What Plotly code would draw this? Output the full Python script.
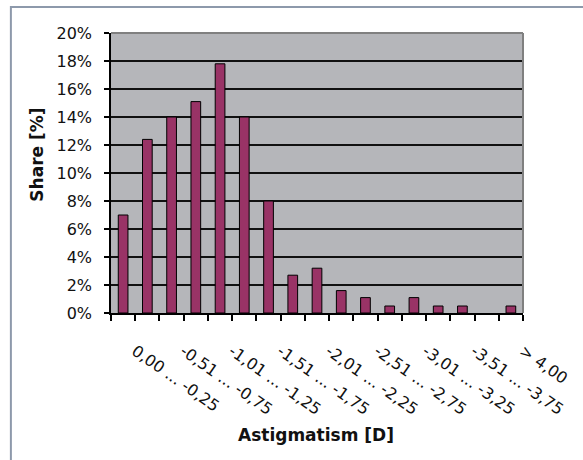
import plotly.graph_objects as go

# Astigmatism classes (dioptres) and share of eyes per class
categories = [
    "0,00 ... -0,25", "-0,26 ... -0,50", "-0,51 ... -0,75", "-0,76 ... -1,00",
    "-1,01 ... -1,25", "-1,26 ... -1,50", "-1,51 ... -1,75", "-1,76 ... -2,00",
    "-2,01 ... -2,25", "-2,26 ... -2,50", "-2,51 ... -2,75", "-2,76 ... -3,00",
    "-3,01 ... -3,25", "-3,26 ... -3,50", "-3,51 ... -3,75", "-3,76 ... -4,00",
    "> 4,00",
]
share = [7.0, 12.4, 14.0, 15.1, 17.8, 14.0, 8.0, 2.7, 3.2, 1.6,
         1.1, 0.5, 1.1, 0.5, 0.5, 0.0, 0.5]

# every second class carries a label on the axis
label_step = 2
y_ticks = list(range(0, 21, 2))

positions = list(range(len(categories)))
label_pos = positions[::label_step]
label_text = categories[::label_step]
boundaries = [p - 0.5 for p in positions] + [positions[-1] + 0.5]

FONT = "DejaVu Sans"
TEXT = "#111111"

fig = go.Figure(
    go.Bar(
        x=positions,
        y=share,
        marker=dict(
            color="#993366",
            # empty classes get no outline
            line=dict(color="#000000", width=[1 if v > 0 else 0 for v in share]),
        ),
        width=0.4,
        hoverinfo="skip",
    )
)

fig.update_layout(
    width=583,
    height=460,
    margin=dict(l=111, r=60, t=33, b=147),
    paper_bgcolor="#FFFFFF",
    plot_bgcolor="#B5B6BA",
    showlegend=False,
    font=dict(family=FONT, size=16, color=TEXT),
)

fig.update_xaxes(
    range=[boundaries[0], boundaries[-1]],
    tickmode="array",
    tickvals=label_pos,
    ticktext=label_text,
    tickangle=35,
    ticks="",
    ticklabelstandoff=21,
    ticklabelshift=12,
    tickfont=dict(family=FONT, size=16, color=TEXT),
    showgrid=False,
    zeroline=False,
    showline=True,
    linecolor="#000000",
    linewidth=1.5,
    minor=dict(
        tickmode="array",
        tickvals=boundaries,
        ticks="outside",
        ticklen=6,
        tickwidth=1.5,
        tickcolor="#000000",
        showgrid=False,
    ),
)

fig.update_yaxes(
    range=[0, 20],
    tickmode="array",
    tickvals=y_ticks,
    ticktext=[f"{v}%" for v in y_ticks],
    ticks="outside",
    ticklen=5,
    tickwidth=1.5,
    tickcolor="#000000",
    ticklabelstandoff=9,
    tickfont=dict(family=FONT, size=16, color=TEXT),
    showgrid=True,
    gridcolor="#111111",
    gridwidth=1.5,
    zeroline=False,
    showline=True,
    linecolor="#000000",
    linewidth=1.5,
)

# axis titles
fig.add_annotation(
    text="<b>Share [%]</b>", textangle=-90,
    xref="paper", yref="paper", x=-0.18, y=0.565,
    xanchor="center", yanchor="middle", showarrow=False,
    font=dict(family=FONT, size=17, color=TEXT),
)
fig.add_annotation(
    text="<b>Astigmatism [D]</b>",
    xref="paper", yref="paper", x=0.497, y=-0.436,
    xanchor="center", yanchor="middle", showarrow=False,
    font=dict(family=FONT, size=17, color=TEXT),
)

# grey border on the top and right of the plot area
fig.add_shape(type="line", xref="paper", yref="paper", x0=0, x1=1, y0=1, y1=1,
              line=dict(color="#808080", width=2), layer="above")
fig.add_shape(type="line", xref="paper", yref="paper", x0=1, x1=1, y0=0, y1=1,
              line=dict(color="#808080", width=2), layer="above")

# outer chart frame (left and top edges visible)
fig.add_shape(type="rect", xref="paper", yref="paper",
              x0=-0.243, x1=1.2, y0=-0.6, y1=1.093,
              line=dict(color="#8D99AB", width=2), layer="above")

fig.write_html("out.html")
